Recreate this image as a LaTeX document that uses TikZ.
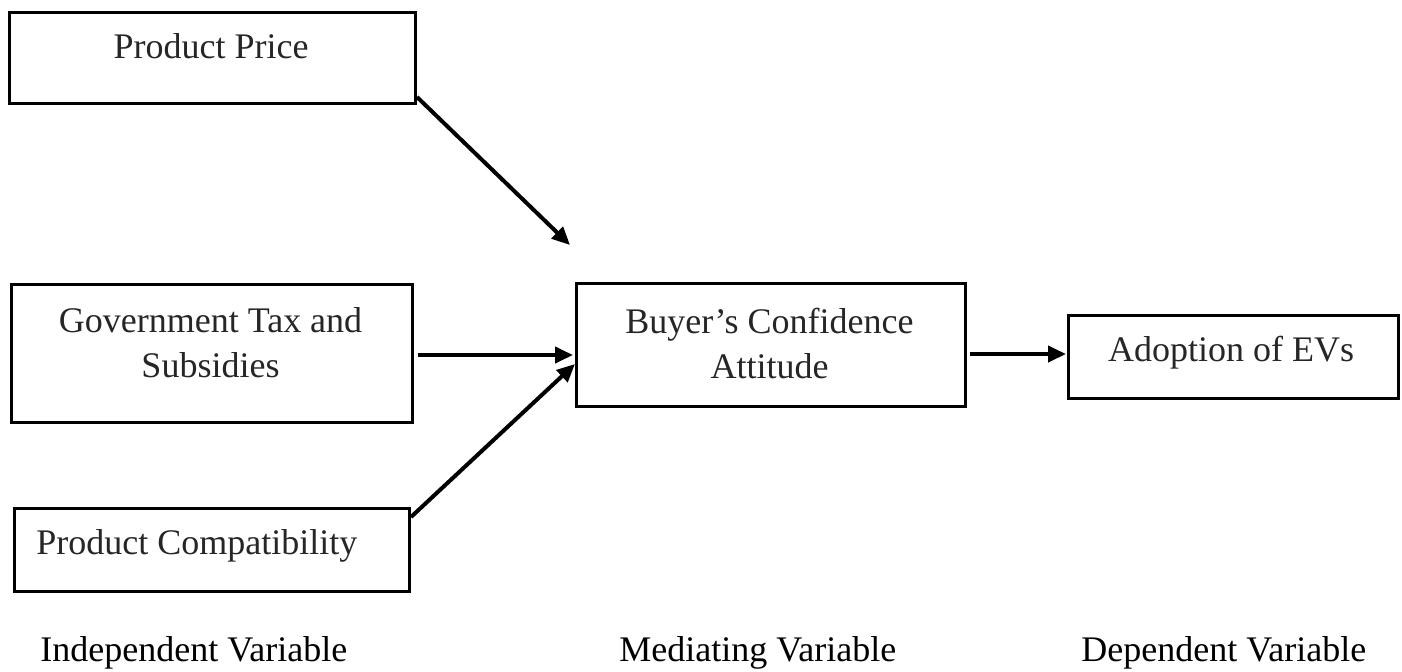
\documentclass[tikz,border=0pt]{standalone}
\usepackage{fontspec}
\setmainfont{Liberation Serif}
\usetikzlibrary{arrows.meta}
\begin{document}
\begin{tikzpicture}[x=0.5pt,y=-0.5pt,
  box/.style={draw=black,line width=1.5pt,inner sep=0pt,anchor=north west},
  txt/.style={inner sep=0pt,font=\fontsize{18}{22.5}\selectfont,text=black!85},
  arr/.style={line width=2pt,-{Triangle[length=9pt,width=8pt]}}]
\useasboundingbox (0,0) rectangle (1402,671);
% boxes
\node[box,minimum width=203pt,minimum height=45.5pt] (b1) at (8,11) {};
\node[box,minimum width=200.5pt,minimum height=69pt] (b2) at (10,283) {};
\node[box,minimum width=197.5pt,minimum height=41.5pt] (b3) at (13,507) {};
\node[box,minimum width=194.5pt,minimum height=61.5pt] (b4) at (575,282) {};
\node[box,minimum width=165pt,minimum height=41.5pt] (b5) at (1067,314) {};
% texts
\node[txt,anchor=base] (t1) at (211,58) {Product Price};
\node[txt,anchor=base,align=center] (t2) at (210.5,377) {Government Tax and\\Subsidies};
\node[txt,anchor=base west] (t3) at (36,554) {Product Compatibility};
\node[txt,anchor=base,align=center] (t4) at (769.5,378) {Buyer’s Confidence\\Attitude};
\node[txt,anchor=base] (t5) at (1231,361) {Adoption of EVs};
% bottom labels
\node[txt,anchor=base west,text=black] (l1) at (40,661) {Independent Variable};
\node[txt,anchor=base west,text=black] (l2) at (619,661) {Mediating Variable};
\node[txt,anchor=base west,text=black] (l3) at (1081,661) {Dependent Variable};
% connector endpoints
\coordinate (a1s) at (417,97);
\coordinate (a1e) at (570,245);
\coordinate (a2s) at (418,355);
\coordinate (a2e) at (573,355);
\coordinate (a3s) at (411,517);
\coordinate (a3e) at (575,364);
\coordinate (a4s) at (970,354);
\coordinate (a4e) at (1066,354);
\draw[arr] (a1s) -- (a1e);
\draw[arr] (a2s) -- (a2e);
\draw[arr] (a3s) -- (a3e);
\draw[arr] (a4s) -- (a4e);
\end{tikzpicture}
\end{document}
